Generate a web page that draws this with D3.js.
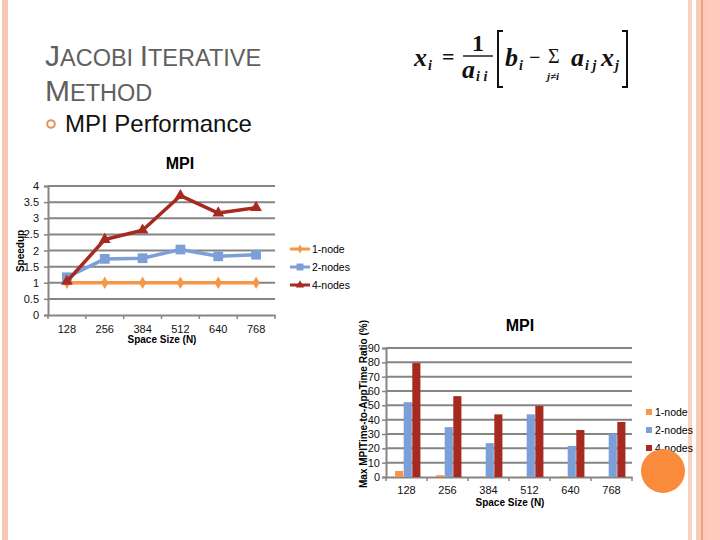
<!DOCTYPE html>
<html>
<head>
<meta charset="utf-8">
<script src="https://cdn.jsdelivr.net/npm/d3@7"></script>
<style>
  body { margin: 0; background: #fff; }
  svg { display: block; font-family: "Liberation Sans", Arial, sans-serif; }
</style>
</head>
<body>
<div id="slide"></div>
<script>
// chart data
const spaceSizes = ['128', '256', '384', '512', '640', '768'];
const seriesNames = ['1-node', '2-nodes', '4-nodes'];
const speedup1 = [1, 1, 1, 1, 1, 1];
const speedup2 = [1.17, 1.74, 1.76, 2.03, 1.82, 1.87];
const speedup4 = [1.04, 2.34, 2.63, 3.7, 3.16, 3.33];
const ratio1 = [4.2, 1.3, 0.2, 0.2, 0.5, 0.2];
const ratio2 = [52.2, 34.8, 23.6, 43.7, 21.7, 30.3];
const ratio4 = [79.5, 56.4, 43.7, 49.6, 32.8, 38.4];
const speedupTicks = [0, 0.5, 1, 1.5, 2, 2.5, 3, 3.5, 4];
const ratioTicks = [0, 10, 20, 30, 40, 50, 60, 70, 80, 90];

const colors = ['#f79646', '#7b9fd6', '#a62a1f'];
const gridColor = '#858585';

const svg = d3.select('#slide').append('svg')
  .attr('width', 720)
  .attr('height', 540);

// ---- slide decoration ----
svg.append('rect').attr('x', 2).attr('y', 0).attr('width', 6).attr('height', 540).attr('fill', '#f6c8b6');
svg.append('rect').attr('x', 688).attr('y', 0).attr('width', 4).attr('height', 540).attr('fill', '#f8d2c2');
svg.append('rect').attr('x', 696).attr('y', 0).attr('width', 24).attr('height', 540).attr('fill', '#fcc9b6');
svg.append('rect').attr('x', 708).attr('y', 0).attr('width', 12).attr('height', 540).attr('fill', '#ffc9bb');
svg.append('line').attr('x1', 702).attr('x2', 702).attr('y1', 0).attr('y2', 540)
  .attr('stroke', '#e08a5a').attr('stroke-width', 1.2);

const title = svg.append('g').attr('fill', '#606060');
const t1 = title.append('text').attr('x', 45).attr('y', 66);
t1.append('tspan').attr('font-size', 30).text('J');
t1.append('tspan').attr('font-size', 23.5).text('ACOBI ');
t1.append('tspan').attr('font-size', 30).text('I');
t1.append('tspan').attr('font-size', 23.5).text('TERATIVE');
const t2 = title.append('text').attr('x', 45).attr('y', 101);
t2.append('tspan').attr('font-size', 30).text('M');
t2.append('tspan').attr('font-size', 23.5).text('ETHOD');

svg.append('circle').attr('cx', 51).attr('cy', 124).attr('r', 3.8)
  .attr('fill', 'none').attr('stroke', '#e3915a').attr('stroke-width', 2);
svg.append('text').attr('x', 65).attr('y', 132).attr('font-size', 24).attr('fill', '#111')
  .text('MPI Performance');

// ---- formula ----
const f = svg.append('g').attr('font-family', '"Liberation Serif", "DejaVu Serif", serif').attr('fill', '#111');
const fi = (x, y, s, txt, style) => f.append('text').attr('x', x).attr('y', y).attr('font-size', s)
  .attr('font-style', style || 'italic').attr('font-weight', 'bold').text(txt);
fi(414, 66, 26, 'x');
fi(428, 70, 14, 'i');
fi(442, 64, 22, '=', 'normal');
fi(472, 51, 24, '1', 'normal');
f.append('line').attr('x1', 463).attr('x2', 493).attr('y1', 56).attr('y2', 56).attr('stroke', '#111').attr('stroke-width', 1.4);
fi(462, 78, 26, 'a');
fi(476, 81, 14, 'i i');
f.append('path').attr('d', 'M503,31 H498 V87 H503').attr('fill', 'none').attr('stroke', '#111').attr('stroke-width', 2);
fi(505, 66, 26, 'b');
fi(519, 70, 14, 'i');
fi(529, 64, 20, '\u2212', 'normal');
f.append('text').attr('x', 548).attr('y', 63).attr('font-size', 20).text('\u03a3');
fi(547, 80, 11, 'j\u2260i');
fi(571, 66, 26, 'a');
fi(585, 70, 14, 'i j');
fi(601, 66, 26, 'x');
fi(615, 70, 14, 'j');
f.append('path').attr('d', 'M622,31 H627 V87 H622').attr('fill', 'none').attr('stroke', '#111').attr('stroke-width', 2);

// ---- shared helpers ----
function drawGrid(g, y, ticks, x0, x1) {
  g.selectAll('line.grid').data(ticks).join('line')
    .attr('class', 'grid')
    .attr('x1', x0).attr('x2', x1)
    .attr('y1', d => y(d)).attr('y2', d => y(d))
    .attr('stroke', gridColor).attr('stroke-width', 2);
}

function styleAxis(axisG) {
  axisG.select('.domain').attr('stroke', gridColor).attr('stroke-width', 2);
  axisG.selectAll('.tick line').attr('stroke', gridColor).attr('stroke-width', 1.5);
  axisG.selectAll('.tick text').attr('fill', '#111').attr('font-size', 11)
    .attr('font-family', '"Liberation Sans", Arial, sans-serif');
}

// ---- line chart: speedup ----
const lc = { left: 48, right: 275, top: 186, bottom: 315 };
const xL = d3.scaleBand().domain(spaceSizes).range([lc.left, lc.right]);
const yL = d3.scaleLinear().domain([0, 4]).range([lc.bottom, lc.top]);
const gL = svg.append('g');

drawGrid(gL, yL, speedupTicks.filter(d => d > 0), lc.left, lc.right);

const yAxisL = gL.append('g').attr('transform', `translate(${lc.left},0)`)
  .call(d3.axisLeft(yL).tickValues(speedupTicks).tickFormat(d => String(d)).tickSize(4).tickPadding(5));
styleAxis(yAxisL);

const xAxisL = gL.append('g').attr('transform', `translate(0,${lc.bottom})`)
  .call(d3.axisBottom(xL).tickSize(0).tickPadding(10));
styleAxis(xAxisL);
gL.selectAll('line.xtick').data(d3.range(spaceSizes.length + 1)).join('line')
  .attr('class', 'xtick')
  .attr('x1', i => lc.left + i * xL.step()).attr('x2', i => lc.left + i * xL.step())
  .attr('y1', lc.bottom).attr('y2', lc.bottom + 4)
  .attr('stroke', gridColor).attr('stroke-width', 1.5);

const speedSeries = [speedup1, speedup2, speedup4];
const symbols = [d3.symbolDiamond, d3.symbolSquare, d3.symbolTriangle];
const symSizes = [45, 95, 60];
const line = d3.line().x((d, i) => xL(spaceSizes[i]) + xL.bandwidth() / 2).y(d => yL(d));

speedSeries.forEach((vals, s) => {
  gL.append('path').datum(vals)
    .attr('d', line).attr('fill', 'none')
    .attr('stroke', colors[s]).attr('stroke-width', 3.5).attr('stroke-linejoin', 'round');
  gL.selectAll(`path.m${s}`).data(vals).join('path')
    .attr('class', `m${s}`)
    .attr('transform', (d, i) => `translate(${xL(spaceSizes[i]) + xL.bandwidth() / 2},${yL(d)})`)
    .attr('d', d3.symbol(symbols[s], symSizes[s]))
    .attr('fill', colors[s]);
});

gL.append('text').attr('x', 180).attr('y', 169).attr('text-anchor', 'middle')
  .attr('font-size', 16).attr('font-weight', 'bold').text('MPI');
gL.append('text').attr('transform', 'translate(24,251) rotate(-90)').attr('text-anchor', 'middle')
  .attr('font-size', 10).attr('font-weight', 'bold').text('Speedup');
gL.append('text').attr('x', 162).attr('y', 343).attr('text-anchor', 'middle')
  .attr('font-size', 10).attr('font-weight', 'bold').text('Space Size (N)');

const legL = gL.selectAll('g.leg').data(seriesNames).join('g')
  .attr('class', 'leg')
  .attr('transform', (d, i) => `translate(290,${249 + i * 18})`);
legL.append('line').attr('x1', 0).attr('x2', 20).attr('stroke', (d, i) => colors[i]).attr('stroke-width', 3);
legL.append('path').attr('transform', 'translate(10,0)')
  .attr('d', (d, i) => d3.symbol(symbols[i], symSizes[i] * 0.5)())
  .attr('fill', (d, i) => colors[i]);
legL.append('text').attr('x', 22).attr('y', 4).attr('font-size', 10.5).text(d => d);

// ---- bar chart: MPI time ratio ----
const bc = { left: 386, right: 632, top: 348, bottom: 477 };
const xB = d3.scaleBand().domain(spaceSizes).range([bc.left, bc.right]);
const groupW = xB.bandwidth() * 0.63;
const xInner = d3.scaleBand().domain(seriesNames).range([0, groupW]);
const yB = d3.scaleLinear().domain([0, 90]).range([bc.bottom, bc.top]);
const gB = svg.append('g');

drawGrid(gB, yB, ratioTicks.filter(d => d > 0), bc.left, bc.right);

const yAxisB = gB.append('g').attr('transform', `translate(${bc.left},0)`)
  .call(d3.axisLeft(yB).tickValues(ratioTicks).tickSize(4).tickPadding(2));
styleAxis(yAxisB);

const xAxisB = gB.append('g').attr('transform', `translate(0,${bc.bottom})`)
  .call(d3.axisBottom(xB).tickSize(0).tickPadding(9));
styleAxis(xAxisB);
gB.selectAll('line.xtick').data(d3.range(spaceSizes.length + 1)).join('line')
  .attr('class', 'xtick')
  .attr('x1', i => bc.left + i * xB.step()).attr('x2', i => bc.left + i * xB.step())
  .attr('y1', bc.bottom).attr('y2', bc.bottom + 4)
  .attr('stroke', gridColor).attr('stroke-width', 1.5);

const ratioSeries = [ratio1, ratio2, ratio4];
ratioSeries.forEach((vals, s) => {
  gB.selectAll(`rect.b${s}`).data(vals).join('rect')
    .attr('class', `b${s}`)
    .attr('x', (d, i) => xB(spaceSizes[i]) + (xB.bandwidth() - groupW) / 2 + 1.5 + xInner(seriesNames[s]))
    .attr('width', xInner.bandwidth() - 0.5)
    .attr('y', d => yB(d))
    .attr('height', d => yB(0) - yB(d))
    .attr('fill', colors[s]);
});

gB.append('text').attr('x', 520).attr('y', 331).attr('text-anchor', 'middle')
  .attr('font-size', 16).attr('font-weight', 'bold').text('MPI');
gB.append('text').attr('transform', 'translate(367,404) rotate(-90)').attr('text-anchor', 'middle')
  .attr('font-size', 10).attr('font-weight', 'bold').text('Max MPITime-to-AppTime Ratio (%)');
gB.append('text').attr('x', 510).attr('y', 506).attr('text-anchor', 'middle')
  .attr('font-size', 10).attr('font-weight', 'bold').text('Space Size (N)');

const legB = gB.selectAll('g.leg').data(seriesNames).join('g')
  .attr('class', 'leg')
  .attr('transform', (d, i) => `translate(646,${412 + i * 18})`);
legB.append('rect').attr('x', 0).attr('y', -3).attr('width', 6).attr('height', 6)
  .attr('fill', (d, i) => colors[i]);
legB.append('text').attr('x', 9).attr('y', 4).attr('font-size', 10.5).text(d => d);

// orange slide ornament
svg.append('circle').attr('cx', 663).attr('cy', 471).attr('r', 22).attr('fill', '#fa8a3c');
</script>
</body>
</html>
